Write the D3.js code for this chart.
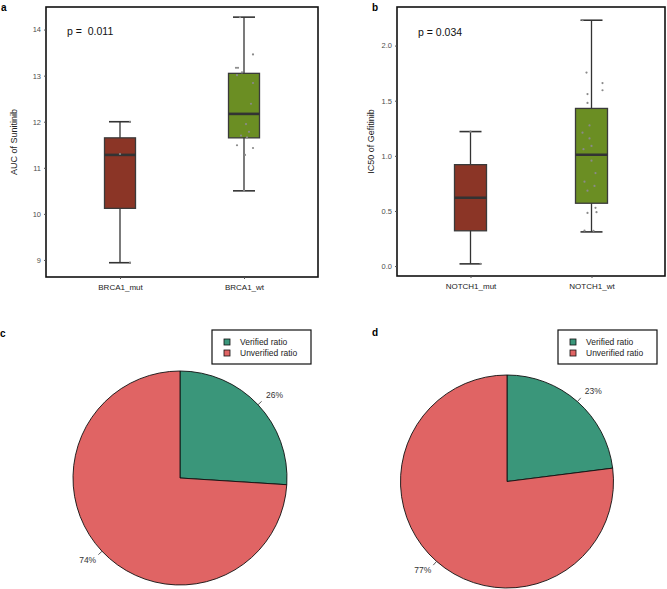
<!DOCTYPE html>
<html><head><meta charset="utf-8">
<script src="https://cdn.jsdelivr.net/npm/d3@7"></script>
<style>body{margin:0;background:#fff}svg{display:block;font-family:"Liberation Sans",Arial,sans-serif}</style>
</head><body>
<svg id="c" width="667" height="589"></svg>
<script>
// ---- Data ----
const groupsA = ["BRCA1_mut", "BRCA1_wt"];
const statsA = [
  {lo: 8.94, q1: 10.12, med: 11.28, q3: 11.65, hi: 12.0},
  {lo: 10.5, q1: 11.65, med: 12.17, q3: 13.05, hi: 14.27}
];
const pointsAmut = [11.3, 12.0, 8.94];
const pointsAwt = [14.27, 13.46, 13.17, 13.17, 13.07, 13.01, 12.84, 12.39, 11.95, 11.78, 11.70, 11.66, 11.49, 11.43, 11.28, 10.5];
const jitterAwt = [-4, 9, -8, -6, -2, -7, 9, 7, 2, 5, -3, 3, -7, 9, 1, 0];
const ticksA = [9, 10, 11, 12, 13, 14];
const pA = "p =  0.011";

const groupsB = ["NOTCH1_mut", "NOTCH1_wt"];
const statsB = [
  {lo: 0.02, q1: 0.32, med: 0.62, q3: 0.92, hi: 1.22},
  {lo: 0.31, q1: 0.57, med: 1.01, q3: 1.43, hi: 2.23}
];
const pointsBmut = [1.22, 0.02];
const pointsBwt = [2.23, 1.755, 1.66, 1.595, 1.56, 1.48, 1.276, 1.21, 1.158, 1.09, 1.06, 0.956, 0.844, 0.766, 0.727, 0.684, 0.528, 0.489, 0.482, 0.322, 0.32];
const jitterBwt = [-9, -5, 11, 11, -4, -4, -2, -9, -2, 0, -8, 0, 4, -7, 3, -4, 4, 5, -4, -7, 2];
const ticksB = [0.0, 0.5, 1.0, 1.5, 2.0];
const pB = "p = 0.034";

const pieLabels = ["Verified ratio", "Unverified ratio"];
const pieC = [26, 74];
const pieD = [23, 77];

// ---- Styles ----
const boxColors = ["#8B3526", "#6B8E23"];
const pieColors = ["#3A967A", "#E06464"];
const svg = d3.select("#c");

function boxPanel(o) {
  const g = svg.append("g");
  const x = d3.scalePoint().domain(o.groups).range([o.x0 + o.pad, o.x1 - o.pad]);
  const y = d3.scaleLinear().domain(o.domain).range([o.y1, o.y0]);
  g.append("rect").attr("x", o.x0).attr("y", o.y0).attr("width", o.x1 - o.x0).attr("height", o.y1 - o.y0)
    .attr("fill", "none").attr("stroke", "#111").attr("stroke-width", 1.6);
  const ya = g.append("g").attr("transform", `translate(${o.x0},0)`)
    .call(d3.axisLeft(y).tickValues(o.ticks).tickSize(2).tickFormat(o.fmt));
  ya.select(".domain").remove();
  ya.selectAll("text").attr("fill", "#4d4d4d").style("font-size", "7.5px").attr("x", -5);
  ya.selectAll("line").attr("stroke", "#555");
  const xa = g.append("g").attr("transform", `translate(0,${o.y1})`)
    .call(d3.axisBottom(x).tickSize(2));
  xa.select(".domain").remove();
  xa.selectAll("text").attr("fill", "#222").style("font-size", "8px").attr("y", 7);
  xa.selectAll("line").attr("stroke", "#555");
  g.append("text").attr("transform", `translate(${o.titleX},${(o.y0 + o.y1) / 2}) rotate(-90)`)
    .attr("text-anchor", "middle").style("font-size", "9px").attr("fill", "#222").text(o.title);
  g.append("text").attr("x", o.px).attr("y", o.py).style("font-size", "10.5px").style("white-space", "pre")
    .attr("fill", "#111").text(o.p);
  o.stats.forEach((s, i) => {
    const cx = x(o.groups[i]);
    const w = o.bw;
    g.append("line").attr("x1", cx).attr("x2", cx).attr("y1", y(s.lo)).attr("y2", y(s.hi))
      .attr("stroke", "#333").attr("stroke-width", 1.3);
    [s.lo, s.hi].forEach(v => g.append("line").attr("x1", cx - 11).attr("x2", cx + 11)
      .attr("y1", y(v)).attr("y2", y(v)).attr("stroke", "#333").attr("stroke-width", 1.6));
    g.append("rect").attr("x", cx - w / 2).attr("y", y(s.q3)).attr("width", w).attr("height", y(s.q1) - y(s.q3))
      .attr("fill", boxColors[i]).attr("stroke", "#3a3a3a").attr("stroke-width", 1.3);
    g.append("line").attr("x1", cx - w / 2).attr("x2", cx + w / 2).attr("y1", y(s.med)).attr("y2", y(s.med))
      .attr("stroke", "#333").attr("stroke-width", 2.6);
  });
  const pts = [];
  o.pointsMut.forEach((v, k) => pts.push({cx: x(o.groups[0]) + (k === 0 ? 0 : 10), v}));
  o.pointsWt.forEach((v, k) => pts.push({cx: x(o.groups[1]) + o.jit[k], v}));
  g.selectAll("circle.pt").data(pts).join("circle").attr("class", "pt")
    .attr("cx", d => d.cx).attr("cy", d => y(d.v)).attr("r", 1.1).attr("fill", "#8a8a8a");
}

boxPanel({groups: groupsA, stats: statsA, pointsMut: pointsAmut, pointsWt: pointsAwt, jit: jitterAwt,
  x0: 46, x1: 318, y0: 7, y1: 277, pad: 74, domain: [8.63, 14.49], ticks: ticksA, fmt: d3.format("d"),
  bw: 31, title: "AUC of Sunitinib", titleX: 17, p: pA, px: 67, py: 35});
boxPanel({groups: groupsB, stats: statsB, pointsMut: pointsBmut, pointsWt: pointsBwt, jit: jitterBwt,
  x0: 397, x1: 665, y0: 7, y1: 276, pad: 73.5, domain: [-0.09, 2.35], ticks: ticksB, fmt: d3.format(".1f"),
  bw: 32, title: "IC50 of Gefitinib", titleX: 374, p: pB, px: 418, py: 36});

[["a", 1, 11], ["b", 372, 11], ["c", 0, 337], ["d", 372, 336]].forEach(([t, x, y]) =>
  svg.append("text").attr("x", x).attr("y", y).style("font-size", "10px").style("font-weight", "bold").text(t));

function piePanel(o) {
  const g = svg.append("g").attr("transform", `translate(${o.cx},${o.cy})`);
  const pie = d3.pie().sort(null).value(d => d);
  const arcs = pie(o.values);
  const arc = d3.arc().innerRadius(0).outerRadius(o.r);
  g.selectAll("path").data(arcs).join("path").attr("d", arc)
    .attr("fill", (d, i) => pieColors[i]).attr("stroke", "#111").attr("stroke-width", 0.9);
  arcs.forEach((a, i) => {
    const m = (a.startAngle + a.endAngle) / 2;
    const sx = Math.sin(m), sy = -Math.cos(m);
    g.append("line").attr("x1", sx * o.r).attr("y1", sy * o.r).attr("x2", sx * (o.r + 5)).attr("y2", sy * (o.r + 5))
      .attr("stroke", "#333").attr("stroke-width", 0.8);
    const off = sx > 0 ? 11 : 8;
    g.append("text").attr("x", sx * (o.r + off)).attr("y", sy * (o.r + off))
      .attr("text-anchor", sx > 0 ? "start" : "end").attr("dy", sy < 0 ? "0.1em" : "0.7em")
      .style("font-size", "8.5px").attr("fill", "#333").text(o.values[i] + "%");
  });
  const lg = svg.append("g").attr("transform", `translate(${o.lx},${o.ly})`);
  lg.append("rect").attr("width", 99).attr("height", 34).attr("fill", "#fff").attr("stroke", "#111").attr("stroke-width", 1.2);
  pieLabels.forEach((t, i) => {
    lg.append("rect").attr("x", 12).attr("y", 9 + i * 11).attr("width", 6).attr("height", 6)
      .attr("fill", pieColors[i]).attr("stroke", "#111").attr("stroke-width", 0.8);
    lg.append("text").attr("x", 28).attr("y", 15 + i * 11).style("font-size", "8.5px").attr("fill", "#222").text(t);
  });
}
piePanel({values: pieC, cx: 180, cy: 478, r: 107, lx: 212, ly: 330});
piePanel({values: pieD, cx: 507, cy: 481.5, r: 106.5, lx: 558, ly: 330});
</script>
</body></html>
